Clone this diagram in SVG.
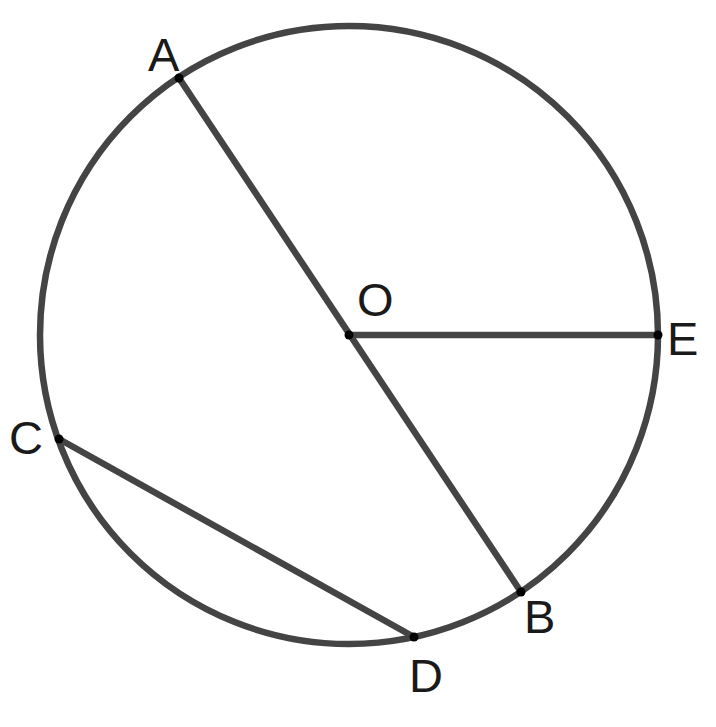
<svg xmlns="http://www.w3.org/2000/svg" width="716" height="727" viewBox="0 0 716 727">
<style>
.ln{stroke:#444;stroke-width:6.5;fill:none;stroke-linecap:butt}
.pt{fill:#000}
.lb{font-family:"Liberation Sans",Arial,sans-serif;font-size:47px;fill:#1a1a1a}
</style>
<rect width="716" height="727" fill="#fff"/>
<g id="circle"><circle class="ln" cx="349" cy="335" r="309"/></g>
<g id="connectors">
<line class="ln" x1="179" y1="78" x2="521" y2="592"/>
<line class="ln" x1="349" y1="335" x2="658" y2="335"/>
<line class="ln" x1="59" y1="439" x2="414" y2="637"/>
</g>
<g id="A"><circle class="pt" cx="179" cy="78" r="4.5"/><text class="lb" x="148" y="71">A</text></g>
<g id="O"><circle class="pt" cx="349" cy="335" r="4.5"/><text class="lb" x="357" y="316">O</text></g>
<g id="E"><circle class="pt" cx="658" cy="335" r="4.5"/><text class="lb" x="667" y="355">E</text></g>
<g id="C"><circle class="pt" cx="59" cy="439" r="4.5"/><text class="lb" x="9" y="454">C</text></g>
<g id="B"><circle class="pt" cx="521" cy="592" r="4.5"/><text class="lb" x="524" y="633">B</text></g>
<g id="D"><circle class="pt" cx="414" cy="637" r="4.5"/><text class="lb" x="409" y="692">D</text></g>
</svg>
